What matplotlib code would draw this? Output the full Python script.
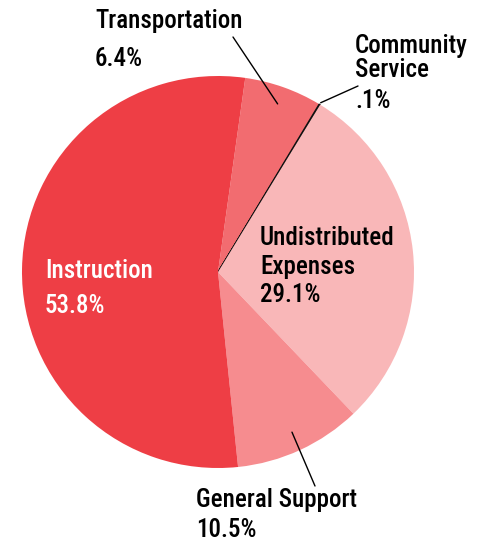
import numpy as np
import matplotlib
matplotlib.use("Agg")
import matplotlib.pyplot as plt

categories = ["Transportation", "Community\nService", "Undistributed\nExpenses", "General Support", "Instruction"]
values = [6.4, 0.1, 29.1, 10.5, 53.8]
pct_labels = ["6.4%", ".1%", "29.1%", "10.5%", "53.8%"]
colors = ["#F26C70", "#111111", "#F9B7B8", "#F68C8F", "#EE3E45"]

plt.rcParams['font.family'] = ['Roboto Condensed', 'DejaVu Sans']

W, H = 487, 544
fig = plt.figure(figsize=(W / 100, H / 100), dpi=100)
ax = fig.add_axes([0, 0, 1, 1])

cx, cy, R = 218, 272, 196
start = 90 - 8  # degrees clockwise offset from top
# with inverted y axis the visual direction flips, so draw counterclock=True
wedges, _ = ax.pie(values, colors=colors, startangle=-start, counterclock=True,
                   center=(cx, cy), radius=R, frame=True,
                   wedgeprops=dict(linewidth=0))
ax.set_xlim(0, W)
ax.set_ylim(H, 0)
ax.set_aspect('equal')
ax.axis('off')
wedges[1].set_edgecolor("#111111")
wedges[1].set_linewidth(0.9)

def rim_point(w, frac):
    th = np.deg2rad((w.theta1 + w.theta2) / 2)
    return cx + frac * R * np.cos(th), cy + frac * R * np.sin(th)

fs = 18
tkw = dict(fontsize=fs, va='baseline', ha='left', fontweight='medium')
line_kw = dict(arrowstyle='-', color='black', lw=1.0, shrinkA=0, shrinkB=0)

# Transportation
ax.annotate("", xy=rim_point(wedges[0], 0.91), xytext=(233, 37), arrowprops=line_kw)
ax.text(95, 28, categories[0], **tkw)
ax.text(95, 66, pct_labels[0], **tkw)

# Community Service
ax.annotate("", xy=rim_point(wedges[1], 1.01), xytext=(358, 86), arrowprops=line_kw)
ax.text(355, 53, "Community", **tkw)
ax.text(355, 77, "Service", **tkw)
ax.text(355, 108, pct_labels[1], **tkw)

# Undistributed Expenses
ax.text(260, 245, "Undistributed", **tkw)
ax.text(260, 274, "Expenses", **tkw)
ax.text(260, 302, pct_labels[2], **tkw)

# General Support
ax.annotate("", xy=rim_point(wedges[3], 0.9), xytext=(315, 486), arrowprops=line_kw)
ax.text(196, 507, categories[3], **tkw)
ax.text(196, 537, pct_labels[3], **tkw)

# Instruction
ax.text(45, 278, categories[4], color='white', **tkw)
ax.text(45, 313, pct_labels[4], color='white', **tkw)

fig.savefig("out.png", dpi=100, facecolor='white')
